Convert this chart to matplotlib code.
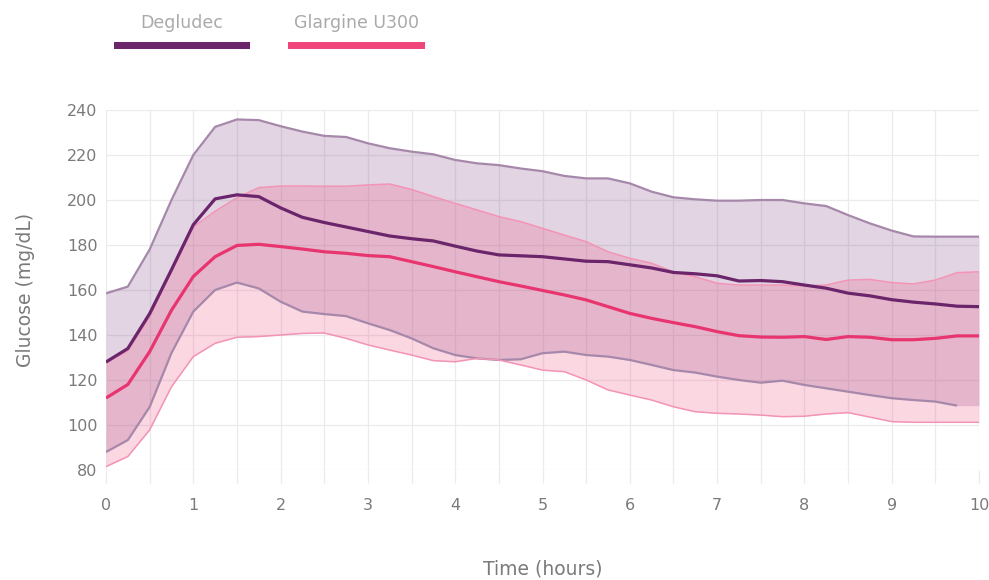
import numpy as np
import matplotlib
matplotlib.use("Agg")
import matplotlib.pyplot as plt
from matplotlib.patches import Rectangle
from matplotlib.ticker import MultipleLocator

# Time grid (hours)
hours = [i * 0.25 for i in range(41)]

# Degludec: mean glucose and band limits (mg/dL)
degludec_mean = [128, 134, 149.5, 169, 189, 200.5, 202.3, 201.5, 196.5, 192.3,
                 190, 188, 186, 184, 182.8, 181.8, 179.5, 177.3, 175.6, 175.2,
                 174.8, 173.8, 172.8, 172.6, 171.2, 169.8, 167.8, 167.2, 166.3, 164,
                 164.2, 163.7, 162.2, 160.8, 158.6, 157.4, 155.7, 154.6, 153.8, 152.8,
                 152.6]
degludec_upper = [158.5, 161.5, 178, 200, 220, 232.5, 235.8, 235.5, 232.8, 230.4,
                  228.5, 228, 225.2, 223, 221.5, 220.3, 217.8, 216.3, 215.5, 214,
                  212.8, 210.7, 209.6, 209.6, 207.4, 203.7, 201.2, 200.3, 199.7, 199.7,
                  200, 200, 198.5, 197.3, 193.3, 189.6, 186.4, 183.8, 183.7, 183.7,
                  183.7]
degludec_lower = [88, 93.3, 108, 132, 150.4, 160, 163.3, 160.7, 154.8, 150.4,
                  149.3, 148.4, 145.2, 142.2, 138.5, 134.1, 131.1, 129.6, 128.9, 129.2,
                  131.9, 132.6, 131.1, 130.4, 128.9, 126.7, 124.4, 123.3, 121.5, 120,
                  118.8, 119.7, 117.8, 116.3, 114.8, 113.3, 111.9, 111.1, 110.4, 108.6,
                  108.6]

# Glargine U300: mean glucose and band limits (mg/dL)
glargine_mean = [112, 118, 132.6, 151, 166, 174.8, 179.8, 180.3, 179.3, 178.2,
                 177, 176.3, 175.3, 174.8, 172.6, 170.4, 168.1, 165.9, 163.7, 161.8,
                 159.8, 157.8, 155.6, 152.6, 149.6, 147.4, 145.5, 143.7, 141.5, 139.7,
                 139.1, 139, 139.3, 138, 139.3, 139, 137.9, 137.9, 138.5, 139.6,
                 139.6]
glargine_upper = [127.5, 133, 148, 168, 188, 195, 201, 205.5, 206.2, 206.2,
                  206.1, 206.1, 206.7, 207.1, 204.7, 201.5, 198.5, 195.6, 192.6, 190.4,
                  187.4, 184.4, 181.5, 177, 174.1, 171.9, 168.1, 165.9, 163, 162.2,
                  162.2, 162.2, 161.8, 162.2, 164.4, 164.7, 163.3, 162.7, 164.4, 167.7,
                  168.1]
glargine_lower = [81.5, 86, 97.8, 117, 130.4, 136.3, 139, 139.3, 140, 140.7,
                  140.9, 138.5, 135.6, 133.3, 131.1, 128.6, 128.1, 129.6, 128.9, 126.7,
                  124.4, 123.7, 120, 115.6, 113.3, 111.1, 108.1, 105.9, 105.2, 104.9,
                  104.4, 103.7, 103.9, 104.9, 105.5, 103.5, 101.5, 101.2, 101.2, 101.2,
                  101.2]

series_names = ["Degludec", "Glargine U300"]

DEG_DARK = "#6a256b"
DEG_BAND = "#7b3f7f"
DEG_EDGE = "#a688aa"
GLA_DARK = "#e8356f"
GLA_BAND = "#f04a7f"
GLA_EDGE = "#f393b5"
GRID = "#ebebeb"
TEXT = "#7a7a7a"

plt.rcParams["font.family"] = ["DejaVu Sans"]

fig = plt.figure(figsize=(9.89, 5.80), dpi=100)
ax = fig.add_axes([106 / 989, 1 - 470 / 580, (979 - 106) / 989, 360 / 580])

x = np.array(hours)
line_kw = dict(solid_joinstyle="round", solid_capstyle="butt")

# Bands
ax.fill_between(x, degludec_lower, degludec_upper, color=DEG_BAND, alpha=0.22,
                linewidth=0, zorder=2)
ax.fill_between(x, glargine_lower, glargine_upper, color=GLA_BAND, alpha=0.22,
                linewidth=0, zorder=3)

# Band edges
ax.plot(x, degludec_upper, color=DEG_EDGE, lw=1.6, zorder=4, **line_kw)
ax.plot(x[:-1], degludec_lower[:-1], color=DEG_EDGE, lw=1.6, zorder=4, **line_kw)
ax.plot(x, glargine_upper, color=GLA_EDGE, lw=1.1, zorder=4, **line_kw)
ax.plot(x, glargine_lower, color=GLA_EDGE, lw=1.1, zorder=4, **line_kw)

# Means
ax.plot(x, glargine_mean, color=GLA_DARK, lw=2.3, zorder=5, **line_kw)
ax.plot(x, degludec_mean, color=DEG_DARK, lw=2.3, zorder=6, **line_kw)

ax.set_xlim(0, 10)
ax.set_ylim(80, 240)
ax.xaxis.set_major_locator(MultipleLocator(1))
ax.xaxis.set_minor_locator(MultipleLocator(0.5))
ax.yaxis.set_major_locator(MultipleLocator(20))
ax.grid(True, which="both", axis="x", color=GRID, lw=0.9, zorder=0)
ax.grid(True, which="major", axis="y", color=GRID, lw=0.9, zorder=0)
ax.set_axisbelow(True)
for s in ax.spines.values():
    s.set_visible(False)

ax.tick_params(axis="x", which="both", length=9.5, width=0.9, color=GRID,
               pad=11, labelsize=11.5, labelcolor=TEXT)
ax.tick_params(axis="y", which="both", length=0, pad=6, labelsize=11.5,
               labelcolor=TEXT)

ax.set_xlabel("Time (hours)", fontsize=13.5, color=TEXT, labelpad=33)
ax.set_ylabel("Glucose (mg/dL)", fontsize=13.5, color=TEXT, labelpad=23)

# Legend: label above a thick colour bar
legend_items = [(series_names[0], DEG_DARK, 114, 250),
                (series_names[1], "#f0457a", 288, 425)]
for name, col, x0, x1 in legend_items:
    fig.text((x0 + x1) / 2 / 989, 1 - 23 / 580, name, ha="center", va="center",
             fontsize=12.5, color="#a9a9a9")
    fig.add_artist(Rectangle((x0 / 989, 1 - 49 / 580), (x1 - x0) / 989, 7 / 580,
                             transform=fig.transFigure, color=col, lw=0))

fig.savefig("out.png", dpi=100, facecolor="white")
